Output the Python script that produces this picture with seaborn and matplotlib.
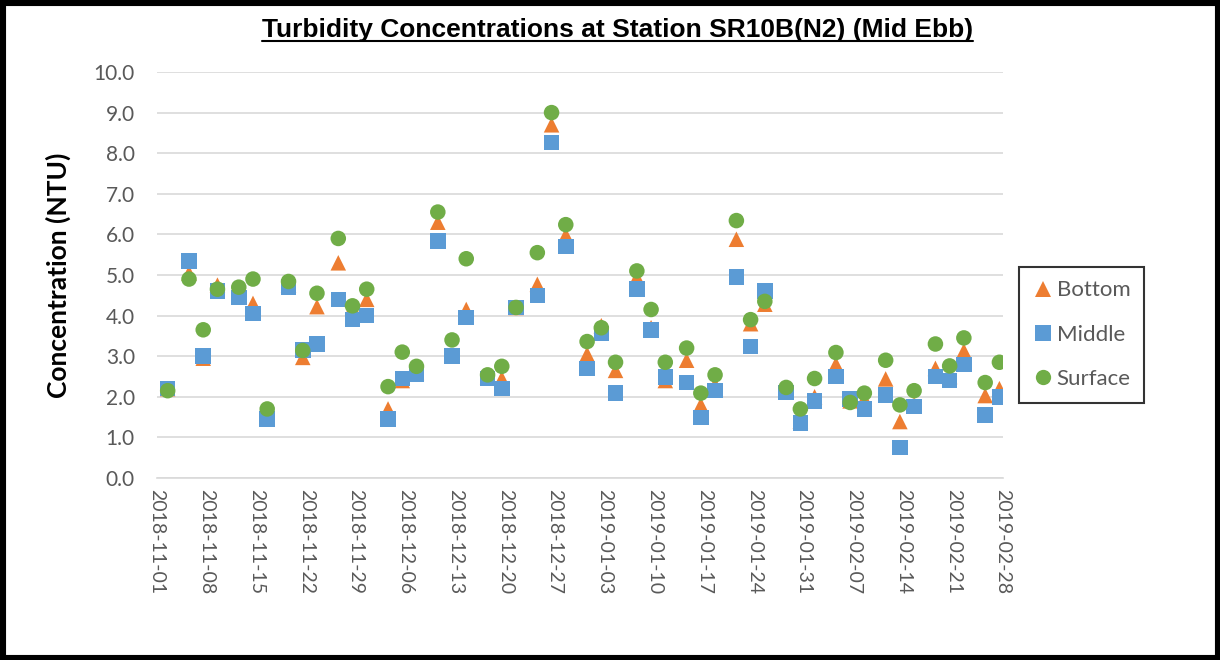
import numpy as np
import pandas as pd
import seaborn as sns
import matplotlib
matplotlib.use("Agg")
import matplotlib.pyplot as plt
import matplotlib.dates as mdates
from matplotlib.lines import Line2D
from matplotlib.patches import Rectangle

# Sampling dates (mid-ebb surveys, Mon/Wed/Fri)
dates = [
    "2018-11-02", "2018-11-05", "2018-11-07", "2018-11-09", "2018-11-12", "2018-11-14",
    "2018-11-16", "2018-11-19", "2018-11-21", "2018-11-23", "2018-11-26", "2018-11-28",
    "2018-11-30", "2018-12-03", "2018-12-05", "2018-12-07", "2018-12-10", "2018-12-12",
    "2018-12-14", "2018-12-17", "2018-12-19", "2018-12-21", "2018-12-24", "2018-12-26",
    "2018-12-28", "2018-12-31", "2019-01-02", "2019-01-04", "2019-01-07", "2019-01-09",
    "2019-01-11", "2019-01-14", "2019-01-16", "2019-01-18", "2019-01-21", "2019-01-23",
    "2019-01-25", "2019-01-28", "2019-01-30", "2019-02-01", "2019-02-04", "2019-02-06",
    "2019-02-08", "2019-02-11", "2019-02-13", "2019-02-15", "2019-02-18", "2019-02-20",
    "2019-02-22", "2019-02-25", "2019-02-27",
]

# Turbidity (NTU) by depth
bottom = [
    2.20, 5.05, 2.95, 4.75, 4.50, 4.30, 1.50, 4.75, 2.97, 4.22, 5.30, 4.20, 4.40,
    1.70, 2.40, 2.60, 6.30, 3.00, 4.15, 2.50, 2.45, 4.20, 4.77, 8.70, 5.98, 3.05,
    3.75, 2.65, 4.94, 3.70, 2.40, 2.90, 1.80, 2.30, 5.88, 3.80, 4.28, 2.15, 1.40,
    2.00, 2.80, 1.90, 1.95, 2.44, 1.39, 1.80, 2.70, 2.50, 3.13, 2.03, 2.20,
]
middle = [
    2.20, 5.35, 3.00, 4.60, 4.45, 4.05, 1.45, 4.70, 3.15, 3.30, 4.40, 3.90, 4.00,
    1.45, 2.45, 2.55, 5.84, 3.00, 3.95, 2.45, 2.20, 4.20, 4.50, 8.26, 5.70, 2.70,
    3.56, 2.09, 4.65, 3.65, 2.49, 2.35, 1.49, 2.15, 4.95, 3.24, 4.60, 2.10, 1.35,
    1.90, 2.50, 1.95, 1.70, 2.04, 0.75, 1.76, 2.50, 2.40, 2.80, 1.55, 1.99,
]
surface = [
    2.15, 4.90, 3.65, 4.65, 4.70, 4.90, 1.70, 4.84, 3.14, 4.55, 5.90, 4.24, 4.65,
    2.25, 3.10, 2.75, 6.55, 3.40, 5.40, 2.54, 2.75, 4.20, 5.55, 9.00, 6.24, 3.36,
    3.70, 2.85, 5.10, 4.15, 2.85, 3.20, 2.09, 2.54, 6.34, 3.90, 4.35, 2.23, 1.70,
    2.45, 3.09, 1.86, 2.09, 2.90, 1.80, 2.15, 3.30, 2.76, 3.45, 2.35, 2.85,
]

series_names = ["Bottom", "Middle", "Surface"]
series_colors = {"Bottom": "#ED7D31", "Middle": "#5B9BD5", "Surface": "#70AD47"}
series_markers = {"Bottom": "^", "Middle": "s", "Surface": "o"}

# Long-form table; each sample sits at the middle of its day slot
when = pd.to_datetime(dates) + pd.Timedelta(hours=12)
frames = []
for name, vals in zip(series_names, [bottom, middle, surface]):
    frames.append(pd.DataFrame({"Date": when, "NTU": vals, "Depth": name}))
df = pd.concat(frames, ignore_index=True)

sns.set_theme(style="white")
plt.rcParams["font.family"] = ["Lato", "DejaVu Sans"]

fig = plt.figure(figsize=(12.2, 6.6), dpi=100)
ax = fig.add_axes([0.1287, 0.2758, 0.6934, 0.6151])

sns.scatterplot(
    data=df, x="Date", y="NTU", hue="Depth", style="Depth",
    hue_order=series_names, style_order=series_names,
    palette=series_colors, markers=series_markers,
    s=125, linewidth=0, legend=False, ax=ax, zorder=3,
)

ax.set_xlim(pd.Timestamp("2018-11-01"), pd.Timestamp("2019-02-28"))
ax.set_ylim(0, 10)
ax.set_yticks(np.arange(0, 10.01, 1.0))
ax.yaxis.set_major_formatter(matplotlib.ticker.FormatStrFormatter("%.1f"))
tick_dates = pd.date_range("2018-11-01", "2019-02-28", freq="7D")
ax.set_xticks(tick_dates)
ax.xaxis.set_major_formatter(mdates.DateFormatter("%Y-%m-%d"))

ax.grid(axis="y", color="#D9D9D9", linewidth=1.2)
ax.grid(axis="x", visible=False)
ax.set_axisbelow(True)
for side in ["top", "right", "left"]:
    ax.spines[side].set_visible(False)
ax.spines["bottom"].set_color("#D9D9D9")
ax.spines["bottom"].set_linewidth(1.2)

ax.tick_params(axis="y", length=0, pad=16, labelsize=15, labelcolor="#595959")
ax.tick_params(axis="x", length=0, pad=8, labelsize=14, labelcolor="#595959")
for lbl in ax.get_xticklabels():
    lbl.set_rotation(-90)
    lbl.set_ha("center")
    lbl.set_va("top")

ax.set_xlabel("")
ax.set_ylabel("Concentration (NTU)", fontsize=19, fontweight="bold", color="black", labelpad=16)

fig.suptitle("Turbidity Concentrations at Station SR10B(N2) (Mid Ebb)",
             x=0.506, y=0.972, fontsize=19, fontweight="bold", color="black",
             family=["Liberation Sans", "DejaVu Sans"])
title_txt = fig.texts[-1]

handles = [
    Line2D([], [], linestyle="none", marker=series_markers[n], markersize=11,
           markerfacecolor=series_colors[n], markeredgewidth=0, label=n)
    for n in series_names
]
leg = fig.legend(
    handles=handles, loc="upper left", bbox_to_anchor=(0.8352, 0.5955),
    borderaxespad=0, frameon=True, fontsize=16, labelcolor="#595959",
    handletextpad=0.1, handlelength=1.0, labelspacing=1.1, borderpad=0.6,
    fancybox=False,
)
leg.get_frame().set_edgecolor("black")
leg.get_frame().set_linewidth(1.5)

# Outer frame around the whole chart
fig.patches.append(Rectangle((0, 0), 1, 1, transform=fig.transFigure, fill=False,
                             edgecolor="black", linewidth=8, zorder=10))

# Underline the title
fig.canvas.draw()
bb = title_txt.get_window_extent().transformed(fig.transFigure.inverted())
fig.add_artist(Line2D([bb.x0, bb.x1], [bb.y0 + 0.002, bb.y0 + 0.002],
                      transform=fig.transFigure, color="black", linewidth=1.5))

fig.savefig("out.png", dpi=100)
